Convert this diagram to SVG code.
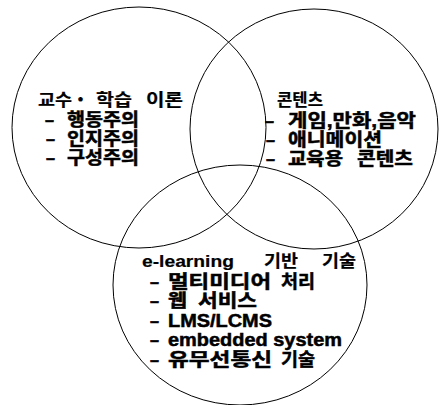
<svg xmlns="http://www.w3.org/2000/svg" width="440" height="405" viewBox="0 0 440 405">
<style>
.c{fill:none;stroke:#000;stroke-width:1}
.t{font-family:"Liberation Sans","Noto Sans CJK KR",sans-serif;font-size:18px;font-weight:bold;fill:#000;stroke:#000;stroke-width:0.5}
.h{font-family:"Liberation Sans","Noto Sans CJK KR",sans-serif;font-size:17px;font-weight:bold;fill:#000;stroke:#000;stroke-width:0.2}
</style>
<rect width="440" height="405" fill="#fff"/>
<g id="theory">
<ellipse class="c" cx="139" cy="127.5" rx="127" ry="120.5"/>
<text class="h" y="106"><tspan x="38" textLength="34" lengthAdjust="spacingAndGlyphs">교수</tspan><tspan x="72">・</tspan><tspan x="96" textLength="36" lengthAdjust="spacingAndGlyphs">학습</tspan><tspan x="146" textLength="37" lengthAdjust="spacingAndGlyphs">이론</tspan></text>
<text class="t" y="126"><tspan x="45" textLength="9" lengthAdjust="spacingAndGlyphs">–</tspan><tspan x="67" textLength="72" lengthAdjust="spacingAndGlyphs">행동주의</tspan></text>
<text class="t" y="145"><tspan x="46" textLength="9" lengthAdjust="spacingAndGlyphs">–</tspan><tspan x="67" textLength="72" lengthAdjust="spacingAndGlyphs">인지주의</tspan></text>
<text class="t" y="164"><tspan x="46" textLength="9" lengthAdjust="spacingAndGlyphs">–</tspan><tspan x="67" textLength="72" lengthAdjust="spacingAndGlyphs">구성주의</tspan></text>
</g>
<g id="contents">
<ellipse class="c" cx="314" cy="129" rx="124" ry="120"/>
<text class="h" x="277" y="106" textLength="46" lengthAdjust="spacingAndGlyphs">콘텐츠</text>
<text class="t" y="127"><tspan x="265" textLength="9" lengthAdjust="spacingAndGlyphs">–</tspan><tspan x="288" textLength="128" lengthAdjust="spacingAndGlyphs">게임,만화,음악</tspan></text>
<text class="t" y="146"><tspan x="266" textLength="9" lengthAdjust="spacingAndGlyphs">–</tspan><tspan x="288" textLength="94" lengthAdjust="spacingAndGlyphs">애니메이션</tspan></text>
<text class="t" y="165"><tspan x="266" textLength="9" lengthAdjust="spacingAndGlyphs">–</tspan><tspan x="288" textLength="55" lengthAdjust="spacingAndGlyphs">교육용</tspan><tspan x="357" textLength="56" lengthAdjust="spacingAndGlyphs">콘텐츠</tspan></text>
</g>
<g id="elearning">
<ellipse class="c" cx="240" cy="285" rx="127" ry="120"/>
<text class="h" y="267"><tspan x="142" textLength="92" lengthAdjust="spacingAndGlyphs">e-learning</tspan><tspan x="264" textLength="34" lengthAdjust="spacingAndGlyphs">기반</tspan><tspan x="322" textLength="34" lengthAdjust="spacingAndGlyphs">기술</tspan></text>
<text class="t" y="288"><tspan x="150" textLength="9" lengthAdjust="spacingAndGlyphs">–</tspan><tspan x="168" textLength="103" lengthAdjust="spacingAndGlyphs">멀티미디어</tspan><tspan x="281" textLength="34" lengthAdjust="spacingAndGlyphs">처리</tspan></text>
<text class="t" y="307"><tspan x="150" textLength="9" lengthAdjust="spacingAndGlyphs">–</tspan><tspan x="168" textLength="19" lengthAdjust="spacingAndGlyphs">웹</tspan><tspan x="198" textLength="59" lengthAdjust="spacingAndGlyphs">서비스</tspan></text>
<text class="t" y="327"><tspan x="150" textLength="9" lengthAdjust="spacingAndGlyphs">–</tspan><tspan x="168" textLength="104" lengthAdjust="spacingAndGlyphs">LMS/LCMS</tspan></text>
<text class="t" y="346"><tspan x="150" textLength="9" lengthAdjust="spacingAndGlyphs">–</tspan><tspan x="168" textLength="174" lengthAdjust="spacingAndGlyphs">embedded system</tspan></text>
<text class="t" y="366"><tspan x="150" textLength="9" lengthAdjust="spacingAndGlyphs">–</tspan><tspan x="168" textLength="104" lengthAdjust="spacingAndGlyphs">유무선통신</tspan><tspan x="281" textLength="34" lengthAdjust="spacingAndGlyphs">기술</tspan></text>
</g>
<g id="connectors"/>
</svg>
